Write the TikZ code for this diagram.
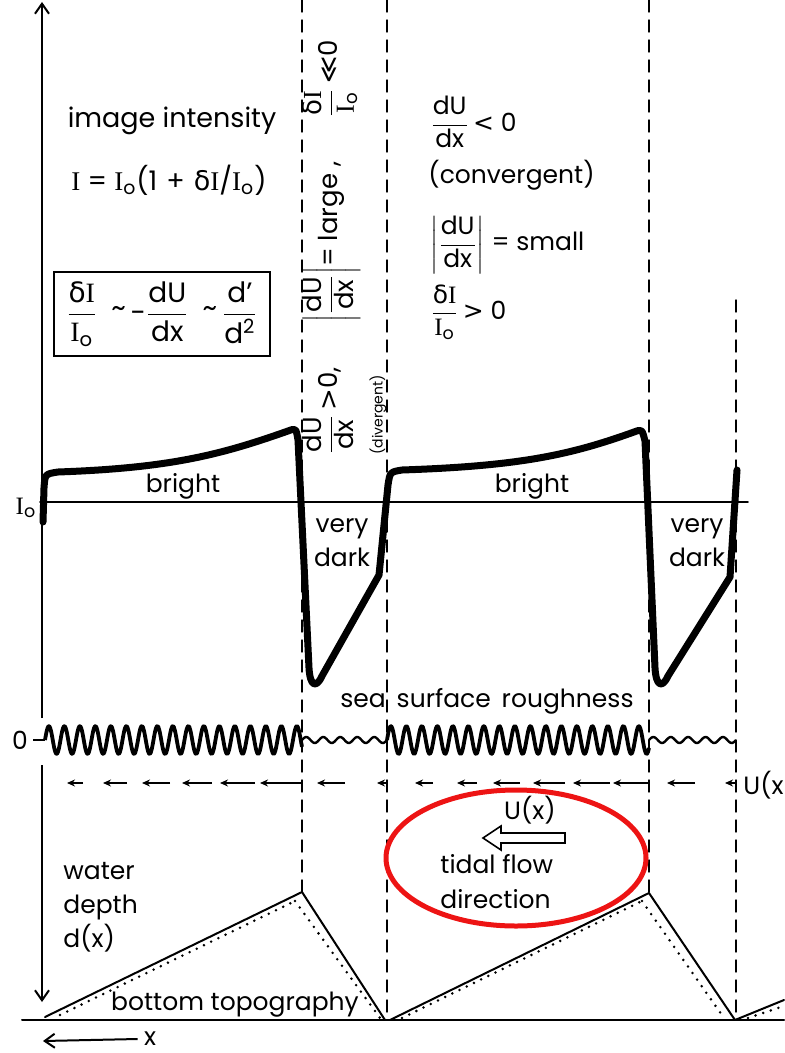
\documentclass[tikz,border=0pt]{standalone}
\usepackage{fontspec}
\usepackage{amsmath}
\setmainfont{Poppins}
\newfontfamily\grk{DejaVu Sans}
\newfontfamily\srf{Liberation Serif}
\usetikzlibrary{arrows.meta,calc}
\usepackage{tkz-euclide}
\definecolor{RingClr}{rgb}{0.93,0.08,0.08}
\newcommand{\II}{{\srf I}}
\newcommand{\dI}{{\grk δ}\II}
\newcommand{\Io}{\II\textsubscript{o}}
\newcommand{\frc}[2]{\dfrac{\text{#1}}{\text{#2}}}
\newcommand{\tl}{\raisebox{0.3ex}{\textasciitilde}}
\newcommand{\lt}{{\grk <}}
\newcommand{\gt}{{\grk >}}

\tikzset{
  lbl/.style={font=\fontsize{12.5}{17}\selectfont,inner sep=0pt},
  signal/.style={line width=3.5pt,line join=round,line cap=round},
  ripple/.style={line width=1.9pt,line join=round},
  guide/.style={line width=0.7pt,dash pattern=on 6pt off 4pt},
  flow/.style={line width=0.7pt,-{Stealth[length=4pt,width=3.5pt]}},
  axisarrow/.style={line width=1pt,-{Straight Barb[length=5pt,width=7pt]}}
}

\begin{document}
\begin{tikzpicture}[x=0.5pt,y=0.5pt]
\useasboundingbox (0,0) rectangle (784,-1053);

% points of the sea bed and of the guide lines
\tkzDefPoints{45/-1017/A,302/-892/B,385/-1020/C,390/-1020/D,649/-893/E,735/-1020/F,784/-1000/G}
\tkzDefPoints{60/-1015/A',295/-901/B',380/-1018/C',402/-1018/D',642/-901/E',724/-1018/F',748/-1018/G',784/-1006/H'}
\tkzDefPoints{22/-1020/L,784/-1020/R,40/-502/I1,748/-502/I2}
\tkzDefPoints{302/0/P1,387/0/P2,649/0/P3,736/-300/P4,387/-1020/Q2,736/-1020/Q4}

% axes
\coordinate (ytop) at (42,-2);
\coordinate (ybot) at (42,-1002);
\draw[axisarrow] (42,-718) -- (ytop);
\draw[axisarrow] (42,-765) -- (ybot);
\tkzDrawSegments[line width=0.8pt,color=black](I1,I2)
\tkzDrawSegments[guide](P1,B P2,Q2 P3,E P4,Q4)

% image intensity
\draw[signal] (43,-522) -- (44,-488) .. controls (45,-474) .. (58,-472)
  .. controls (170,-468) and (220,-455) .. (288,-431) .. controls (296,-428) .. (298,-440)
  -- (309,-668) .. controls (310,-686) and (316,-689) .. (322,-676)
  -- (379,-575) -- (388,-485) .. controls (390,-472) .. (402,-470)
  .. controls (520,-466) and (570,-455) .. (634,-432) .. controls (642,-429) .. (645,-441)
  -- (655,-668) .. controls (656,-686) and (662,-689) .. (668,-676)
  -- (730,-577) -- (737,-470);

% sea surface roughness
\draw[ripple] plot[domain=45:302,samples=300,smooth] (\x,{-740+14*sin((\x-45)/15.5*360)});
\draw[ripple,line width=1.2pt] plot[domain=302:387,samples=80,smooth] (\x,{-740+3*sin((\x-302)/17*360)});
\draw[ripple] plot[domain=387:649,samples=300,smooth] (\x,{-740+14*sin((\x-387)/15.5*360)});
\draw[ripple,line width=1.2pt] plot[domain=649:736,samples=80,smooth] (\x,{-740+3*sin((\x-649)/17.4*360)});
\draw[line width=0.8pt] (33,-740) -- (45,-740);

% current U(x)
\foreach \a/\b in {67/83,103/127,142/170,182/212,220/255,260/302,317/345,377/387,
  415/433,457/477,493/520,533/565,573/610,613/649,667/695,725/736}
  \draw[flow] (\b,-783) -- (\a,-783);

% bottom topography
\tkzDrawSegments[line width=1pt,color=black](L,R A,B B,C D,E E,F F,G)
\tkzDrawSegments[line width=1.4pt,line cap=round,dash pattern=on 0pt off 4pt](A',B' B',C' D',E' E',F' G',H')

% tidal flow
\draw[RingClr,line width=2.5pt] (516,-858) ellipse [x radius=130,y radius=68];
\draw[line width=0.8pt,line join=miter] (565,-833) -- (501,-833) -- (501,-826) -- (483,-838)
  -- (501,-850) -- (501,-843) -- (565,-843) -- cycle;

% labels
\node[lbl,font=\fontsize{13.5}{17}\selectfont] (title) at (172,-121) {image intensity};
\node[lbl,font=\fontsize{13.5}{17}\selectfont] (formula) at (169,-180)
  {\II\ = \Io(1\,\,+\,\,\dI/\Io)};
\node[lbl,draw,line width=1pt,inner xsep=6pt,inner ysep=5pt,font=\fontsize{14}{17}\selectfont] (relation) at (162,-314)
  {$\frc{\dI}{\Io}$\enspace\tl\,-$\frc{dU}{dx}$\enspace\tl\,$\frc{d'}{d\textsuperscript{2}}$};
\node[lbl,rotate=90,anchor=west,font=\fontsize{13}{17}\selectfont] (divlabel) at (331,-455)
  {$\frc{dU}{dx}$\,\gt0,\hspace{1.7em}$\left|\frc{dU}{dx}\right|$= large ,\hspace{1.7em}$\frc{\dI}{\Io}$\,{\grk ≪}0};
\node[lbl,rotate=90,anchor=west,font=\fontsize{7}{8}\selectfont] (divnote) at (378,-455) {(divergent)};
\node[lbl,anchor=west] (conv1) at (430,-122) {$\frc{dU}{dx}$\,\lt\ 0};
\node[lbl,anchor=west] (conv2) at (428,-175) {(convergent)};
\node[lbl,anchor=west] (conv3) at (430,-245) {$\biggl|\frc{dU}{dx}\biggr|$ = small};
\node[lbl,anchor=west] (conv4) at (430,-312) {$\frc{\dI}{\Io}$\,\gt\ 0};
\node[lbl,anchor=base] (bright1) at (183,-492) {bright};
\node[lbl,anchor=base] (bright2) at (532,-492) {bright};
\node[lbl,align=center] (dark1) at (342,-543) {very\\dark};
\node[lbl,align=center] (dark2) at (697,-543) {very\\dark};
\node[lbl,anchor=base] (rough) at (487,-707) {sea\, surface\, roughness};
\node[lbl] (zero) at (20,-740) {0};
\node[lbl] (Io) at (26,-508) {\Io};
\node[lbl,anchor=west] (Ux) at (743,-785) {U(x};
\node[lbl] (Ulabel) at (530,-810) {U(x)};
\node[lbl,anchor=base west] (tidal) at (440,-873) {tidal flow};
\node[lbl,anchor=base west] (direc) at (440,-908) {direction};
\node[lbl,align=left,anchor=north west] (water) at (63,-862) {water\\depth\\d(x)};
\node[lbl,anchor=base] (bottom) at (235,-1010) {bottom topography};
\node[lbl] (xlabel) at (150,-1039) {x};
\coordinate (xend) at (43,-1041);
\draw[axisarrow] ([xshift=-3pt]xlabel.west) -- (xend);

\end{tikzpicture}
\end{document}
